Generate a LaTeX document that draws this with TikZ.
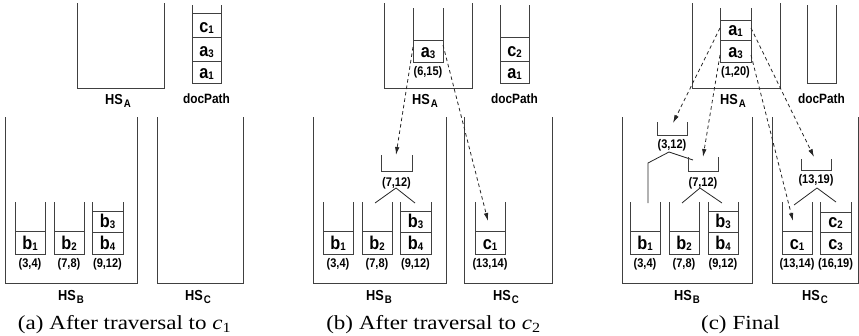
\documentclass[tikz,border=0pt]{standalone}
\usepackage{fontspec}
\setmainfont{Liberation Serif}
\newfontfamily\sansb[FakeStretch=0.88]{Liberation Sans Bold}
\newfontfamily\capfont[FakeStretch=1.15]{Liberation Serif}
\usetikzlibrary{arrows.meta}
\newcommand\stackbox[4]{\draw[stk] (#1,#3) -- (#1,#4) -- (#2,#4) -- (#2,#3);}
\newcommand\divl[3]{\draw[stk] (#1,#3) -- (#2,#3);}
\newcommand\cl[2]{#1\raisebox{-1.5pt}{\fontsize{11}{11}\selectfont #2}}
\newcommand\hsl[1]{HS\kern1pt\raisebox{-3pt}{\fontsize{11}{11}\selectfont #1}}
\begin{document}
\begin{tikzpicture}[x=1pt,y=-1pt,
  stk/.style={line width=0.9pt, draw=black!75},
  cell/.style={font=\sansb\fontsize{18.5}{18.5}\selectfont, anchor=base, inner sep=0pt},
  lab/.style={font=\sansb\fontsize{12.5}{12.5}\selectfont, anchor=base, inner sep=0pt},
  hs/.style={font=\sansb\fontsize{14.5}{14.5}\selectfont, anchor=base, inner sep=0pt},
  dpl/.style={font=\sansb\fontsize{13.5}{13.5}\selectfont, anchor=base, inner sep=0pt},
  captxt/.style={font=\capfont\fontsize{20}{20}\selectfont, anchor=base, inner sep=0pt},
  ptr/.style={line width=0.8pt, draw=black!85, dash pattern=on 3.5pt off 3pt, -{Latex[length=8pt,width=4.5pt]}},
  tree/.style={line width=0.8pt, draw=black!85}]
\useasboundingbox (0,0) rectangle (859,335);

% ================= panel (a) =================
\stackbox{77}{164}{3}{88}
\node[hs] (aHSA) at (118,104) {\hsl{A}};
\stackbox{192}{221}{5}{83}
\divl{192}{221}{13}\divl{192}{221}{37}\divl{192}{221}{61}
\node[cell] (adc1) at (206.5,32) {\cl{c}{1}};
\node[cell] (ada3) at (206.5,56) {\cl{a}{3}};
\node[cell] (ada1) at (206.5,78) {\cl{a}{1}};
\node[dpl] (adp) at (206.5,103) {docPath};
\stackbox{5}{137}{117}{283}
\node[hs] (aHSB) at (71,300) {\hsl{B}};
\stackbox{157}{243}{117}{283}
\node[hs] (aHSC) at (198,300) {\hsl{C}};
\stackbox{15}{45}{202}{254}\divl{15}{45}{231}
\node[cell] (ab1) at (30,249) {\cl{b}{1}};
\node[lab] (al34) at (30,267) {(3,4)};
\stackbox{54}{84}{202}{254}\divl{54}{84}{231}
\node[cell] (ab2) at (69,249) {\cl{b}{2}};
\node[lab] (al78) at (69,267) {(7,8)};
\stackbox{92}{123}{202}{254}\divl{92}{123}{211}\divl{92}{123}{232}
\node[cell] (ab3) at (107.5,227) {\cl{b}{3}};
\node[cell] (ab4) at (107.5,249) {\cl{b}{4}};
\node[lab] (al912) at (107.5,267) {(9,12)};
\node[captxt] (capa) at (124.5,329) {(a)\hspace{0.3em}After traversal to \textit{c}\textsubscript{1}};

% ================= panel (b) =================
\stackbox{384}{472}{3}{88}
\node[hs] (bHSA) at (425,104) {\hsl{A}};
\stackbox{413}{443}{8}{62}\divl{413}{443}{40}
\node[cell] (ba3) at (428,57) {\cl{a}{3}};
\node[lab] (bl615) at (428,75) {(6,15)};
\stackbox{500}{529}{5}{83}
\divl{500}{529}{37}\divl{500}{529}{61}
\node[cell] (bdc2) at (514.5,56) {\cl{c}{2}};
\node[cell] (bda1) at (514.5,78) {\cl{a}{1}};
\node[dpl] (bdp) at (514.5,103) {docPath};
\stackbox{313}{446}{117}{283}
\node[hs] (bHSB) at (379,300) {\hsl{B}};
\stackbox{464}{552}{117}{283}
\node[hs] (bHSC) at (506,300) {\hsl{C}};
\stackbox{381}{412}{155}{171}
\node[lab] (bl712) at (396.5,186) {(7,12)};
\coordinate (bt0) at (396,188);
\coordinate (bt1) at (375,203);
\coordinate (bt2) at (415,203);
\draw[tree] (bt1) -- (bt0) -- (bt2);
\stackbox{323}{353}{202}{254}\divl{323}{353}{231}
\node[cell] (bb1) at (338,249) {\cl{b}{1}};
\node[lab] (bl34) at (338,267) {(3,4)};
\stackbox{362}{392}{202}{254}\divl{362}{392}{231}
\node[cell] (bb2) at (377,249) {\cl{b}{2}};
\node[lab] (bl78) at (377,267) {(7,8)};
\stackbox{400}{431}{202}{254}\divl{400}{431}{211}\divl{400}{431}{232}
\node[cell] (bb3) at (415.5,227) {\cl{b}{3}};
\node[cell] (bb4) at (415.5,249) {\cl{b}{4}};
\node[lab] (bl912) at (415.5,267) {(9,12)};
\stackbox{475}{505}{202}{254}\divl{475}{505}{231}
\node[cell] (bc1) at (490,249) {\cl{c}{1}};
\node[lab] (bl1314) at (490,267) {(13,14)};
\coordinate (bs1) at (413,47);
\coordinate (be1) at (396,155);
\coordinate (bs2) at (443,45);
\coordinate (be2) at (488,221);
\draw[ptr] (bs1) -- (be1);
\draw[ptr] (bs2) -- (be2);
\node[captxt] (capb) at (433.5,329) {(b)\hspace{0.3em}After traversal to \textit{c}\textsubscript{2}};

% ================= panel (c) =================
\stackbox{692}{780}{3}{88}
\node[hs] (cHSA) at (733,104) {\hsl{A}};
\stackbox{720}{751}{8}{62}\divl{720}{751}{20}\divl{720}{751}{40}
\node[cell] (ca1) at (735.5,35) {\cl{a}{1}};
\node[cell] (ca3) at (735.5,57) {\cl{a}{3}};
\node[lab] (cl120) at (735.5,75) {(1,20)};
\stackbox{807}{836}{5}{83}
\node[dpl] (cdp) at (821.5,103) {docPath};
\stackbox{622}{752}{117}{283}
\node[hs] (cHSB) at (687,300) {\hsl{B}};
\stackbox{772}{858}{117}{283}
\node[hs] (cHSC) at (815,300) {\hsl{C}};
\stackbox{657}{687}{122}{135}
\node[lab] (cl312) at (672,148) {(3,12)};
\coordinate (ct0) at (669,152);
\coordinate (ct1) at (648,163);
\coordinate (ct2) at (648,203);
\coordinate (ct3) at (693,160);
\draw[tree] (ct2) -- (ct1) -- (ct0) -- (ct3);
\stackbox{688}{718}{157}{171}
\node[lab] (cl712) at (703,186) {(7,12)};
\coordinate (cu0) at (700,188);
\coordinate (cu1) at (682,203);
\coordinate (cu2) at (722,203);
\draw[tree] (cu1) -- (cu0) -- (cu2);
\stackbox{630}{660}{202}{254}\divl{630}{660}{231}
\node[cell] (cb1) at (645,249) {\cl{b}{1}};
\node[lab] (cl34) at (645,267) {(3,4)};
\stackbox{669}{699}{202}{254}\divl{669}{699}{231}
\node[cell] (cb2) at (684,249) {\cl{b}{2}};
\node[lab] (cl78) at (684,267) {(7,8)};
\stackbox{708}{738}{202}{254}\divl{708}{738}{211}\divl{708}{738}{232}
\node[cell] (cb3) at (723,227) {\cl{b}{3}};
\node[cell] (cb4) at (723,249) {\cl{b}{4}};
\node[lab] (cl912) at (723,267) {(9,12)};
\stackbox{801}{831}{159}{170}
\node[lab] (cl1319) at (816,183) {(13,19)};
\coordinate (cv0) at (817,188);
\coordinate (cv1) at (794,205);
\coordinate (cv2) at (836,202);
\draw[tree] (cv1) -- (cv0) -- (cv2);
\stackbox{782}{812}{202}{254}\divl{782}{812}{231}
\node[cell] (cc1) at (797,249) {\cl{c}{1}};
\node[lab] (cl1314) at (797,267) {(13,14)};
\stackbox{820}{851}{202}{254}\divl{820}{851}{212}\divl{820}{851}{232}
\node[cell] (cc2) at (835.5,227) {\cl{c}{2}};
\node[cell] (cc3) at (835.5,249) {\cl{c}{3}};
\node[lab] (cl1619) at (835.5,267) {(16,19)};
\coordinate (cs1) at (720,28);
\coordinate (ce1) at (673,123);
\coordinate (cs2) at (720,55);
\coordinate (ce2) at (703,157);
\coordinate (cs3) at (751,28);
\coordinate (ce3) at (814,157);
\coordinate (cs4) at (751,55);
\coordinate (ce4) at (793,221);
\draw[ptr] (cs1) -- (ce1);
\draw[ptr] (cs2) -- (ce2);
\draw[ptr] (cs3) -- (ce3);
\draw[ptr] (cs4) -- (ce4);
\node[captxt] (capc) at (740.5,329) {(c)\hspace{0.3em}Final};
\end{tikzpicture}
\end{document}
